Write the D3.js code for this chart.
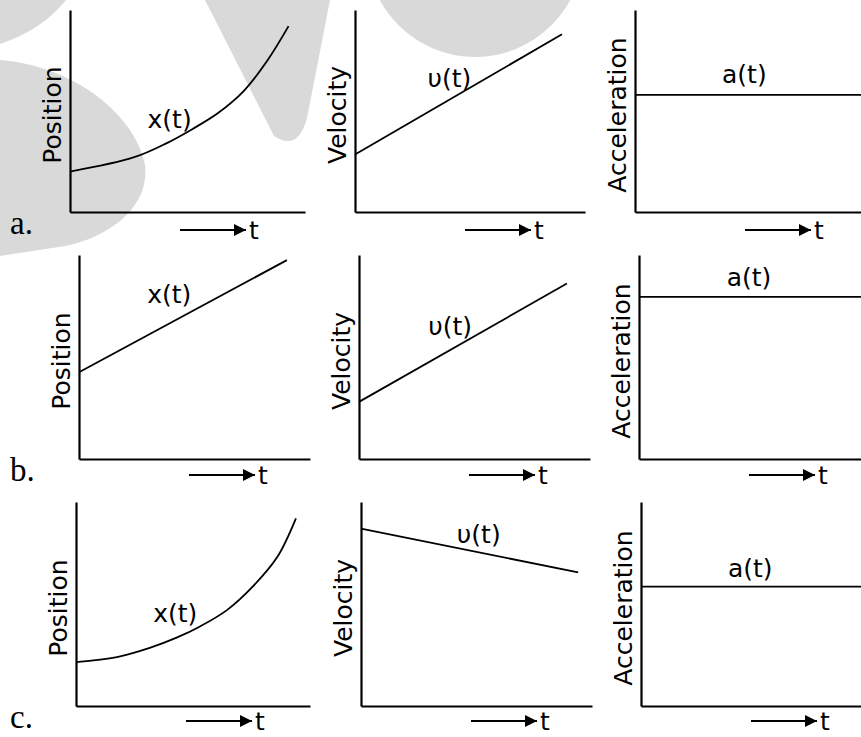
<!DOCTYPE html>
<html>
<head>
<meta charset="utf-8">
<script src="https://cdn.jsdelivr.net/npm/d3@7"></script>
<style>
  body { margin: 0; background: #fff; }
  svg { display: block; }
  text { font-family: "DejaVu Sans", Verdana, sans-serif; fill: #000; }
</style>
</head>
<body>
<svg id="chart" width="861" height="737"></svg>
<script>
// every little graph runs over the same time span
const tijdDomein = [0, 10];
const waardeDomein = [0, 10];

// a. position curves up, velocity rises, acceleration constant
const posA_t = [0, 2.7, 4.1, 5.2, 6.3, 7.4, 8.4, 9.3];
const posA_v = [2.0, 2.7, 3.4, 4.1, 4.9, 6.0, 7.5, 9.2];
const velA_t = [0, 9.0];
const velA_v = [2.85, 8.8];
const accA_t = [0, 10];
const accA_v = [5.8, 5.8];

// b. position straight line, velocity rises, acceleration constant
const posB_t = [0, 9.0];
const posB_v = [4.25, 9.75];
const velB_t = [0, 9.0];
const velB_v = [2.8, 8.6];
const accB_t = [0, 10];
const accB_v = [7.95, 7.95];

// c. position curves up, velocity falls, acceleration constant
const posC_t = [0, 1.75, 3.15, 4.3, 5.3, 6.45, 7.55, 8.6, 9.4];
const posC_v = [2.15, 2.4, 2.85, 3.35, 3.9, 4.7, 5.85, 7.3, 9.2];
const velC_t = [0, 9.4];
const velC_v = [8.7, 6.55];
const accC_t = [0, 10];
const accC_v = [5.85, 5.85];

const rijLetters = ['a.', 'b.', 'c.'];
const asTitels = ['Position', 'Velocity', 'Acceleration'];
const curveNamen = ['x(t)', 'υ(t)', 'a(t)'];

// layout (pixels) per row / column
const rijen = [
  { top: 10, bottom: 212, pijl: 18, x0: [70, 355, 635], x1: [305, 585, 861] },
  { top: 255, bottom: 459, pijl: 16, x0: [79, 359, 639], x1: [310, 590, 861] },
  { top: 502, bottom: 706, pijl: 15, x0: [76, 361, 641], x1: [310, 592, 861] }
];

// where the curve name sits, in data units of the panel
const labelPlek = [
  [[3.3, 4.15], [3.15, 6.2], [3.85, 6.4]],
  [[2.95, 7.65], [3.0, 6.1], [3.95, 8.5]],
  [[3.3, 4.1], [4.15, 8.0], [3.95, 6.3]]
];

const reeksen = [
  [[posA_t, posA_v], [velA_t, velA_v], [accA_t, accA_v]],
  [[posB_t, posB_v], [velB_t, velB_v], [accB_t, accB_v]],
  [[posC_t, posC_v], [velC_t, velC_v], [accC_t, accC_v]]
];

const svg = d3.select('#chart');

// grey watermark in the background
const wm = svg.append('g').attr('fill', '#d9d9d9');
wm.append('path').attr('d', 'M0,0 L66,0 Q42,30 0,44 Z');
wm.append('path').attr('d', 'M0,60 C75,66 135,115 145,165 C150,210 105,238 65,246 L0,256 Z');
wm.append('path').attr('d', 'M205,0 L330,0 L307,118 Q298,152 274,136 Z');
wm.append('circle').attr('cx', 475).attr('cy', -51).attr('r', 108);

svg.append('defs').append('marker')
  .attr('id', 'pijl')
  .attr('viewBox', '0 0 10 10')
  .attr('refX', 10).attr('refY', 5)
  .attr('markerWidth', 15).attr('markerHeight', 12)
  .attr('markerUnits', 'userSpaceOnUse')
  .attr('orient', 'auto')
  .append('path').attr('d', 'M0,0 L10,5 L0,10 Z').attr('fill', '#000');

const lijn = d3.line().curve(d3.curveCatmullRom.alpha(0.5));

rijen.forEach((rij, r) => {
  svg.append('text')
    .attr('x', 10).attr('y', rij.bottom + 22)
    .style('font-family', '"Liberation Serif", "DejaVu Serif", serif')
    .style('font-size', '33px')
    .text(rijLetters[r]);

  for (let c = 0; c < 3; c++) {
    const x = d3.scaleLinear().domain(tijdDomein).range([rij.x0[c], rij.x1[c]]);
    const y = d3.scaleLinear().domain(waardeDomein).range([rij.bottom, rij.top]);
    const g = svg.append('g');

    g.append('g')
      .attr('transform', `translate(0,${rij.bottom})`)
      .call(d3.axisBottom(x).ticks(0).tickSizeOuter(0))
      .call(a => a.select('.domain').attr('stroke-width', 2.2));
    g.append('g')
      .attr('transform', `translate(${rij.x0[c]},0)`)
      .call(d3.axisLeft(y).ticks(0).tickSizeOuter(0))
      .call(a => a.select('.domain').attr('stroke-width', 2.2));

    const [ts, vs] = reeksen[r][c];
    const punten = ts.map((t, i) => [x(t), y(vs[i])]);
    g.append('path')
      .attr('d', lijn(punten))
      .attr('fill', 'none')
      .attr('stroke', '#000')
      .attr('stroke-width', 1.8);

    const [lt, lv] = labelPlek[r][c];
    g.append('text')
      .attr('x', x(lt)).attr('y', y(lv))
      .style('font-size', '25px')
      .text(curveNamen[c]);

    // rotated axis title
    const midden = (rij.top + rij.bottom) / 2 + 4;
    g.append('text')
      .attr('transform', `translate(${rij.x0[c] - 9},${midden}) rotate(-90)`)
      .attr('text-anchor', 'middle')
      .style('font-size', '25px')
      .text(asTitels[c]);

    // time arrow under the axis
    const ay = rij.bottom + rij.pijl;
    g.append('line')
      .attr('x1', rij.x0[c] + 110).attr('x2', rij.x0[c] + 176)
      .attr('y1', ay).attr('y2', ay)
      .attr('stroke', '#000').attr('stroke-width', 2.2)
      .attr('marker-end', 'url(#pijl)');
    g.append('text')
      .attr('x', rij.x0[c] + 179).attr('y', ay + 9)
      .style('font-size', '25px')
      .text('t');
  }
});
</script>
</body>
</html>
